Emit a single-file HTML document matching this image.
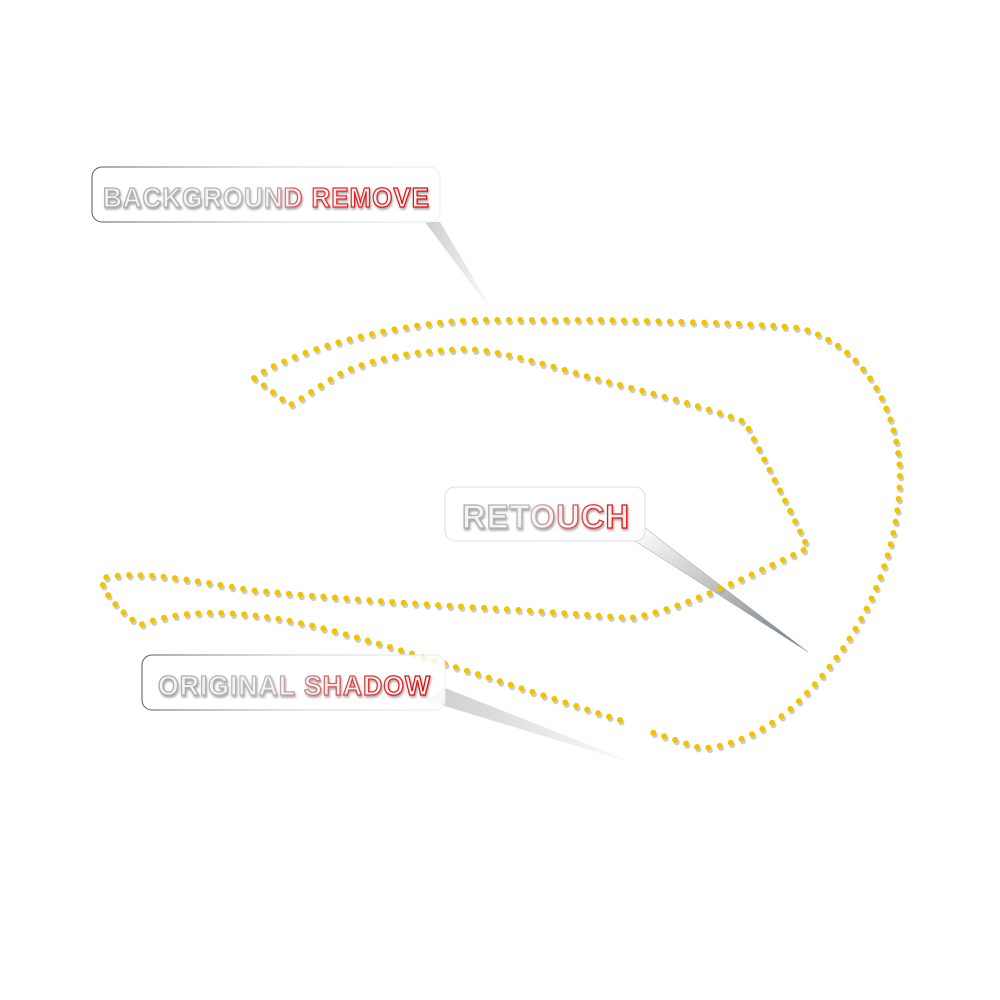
<!DOCTYPE html>
<html><head><meta charset="utf-8"><style>
html,body{margin:0;padding:0;background:#fff;}
svg{display:block}
.lbl{font-family:"Liberation Sans",sans-serif;font-weight:bold;font-size:28px;letter-spacing:1px;fill:#f4f4f4;stroke-width:1.3px}
</style></head><body>
<svg width="1000" height="1000" viewBox="0 0 1000 1000" xmlns="http://www.w3.org/2000/svg">
<defs>
<linearGradient id="tg" x1="0" x2="1" y1="0" y2="0">
<stop offset="0" stop-color="#aaa"/><stop offset="0.5" stop-color="#bbb"/><stop offset="0.62" stop-color="#e33"/><stop offset="1" stop-color="#e00"/></linearGradient>
<linearGradient id="tg2" x1="0" x2="1" y1="0" y2="0">
<stop offset="0" stop-color="#aaa"/><stop offset="0.4" stop-color="#bbb"/><stop offset="0.7" stop-color="#d44"/><stop offset="1" stop-color="#e00"/></linearGradient>
<linearGradient id="bx" x1="0" x2="1"><stop offset="0" stop-color="#555"/><stop offset="0.5" stop-color="#ccc"/><stop offset="1" stop-color="#eee"/></linearGradient>
<linearGradient id="pr" x1="0" x2="1" y1="0" y2="1"><stop offset="0" stop-color="#fff"/><stop offset="0.5" stop-color="#bbb"/><stop offset="1" stop-color="#6a7a88"/></linearGradient>
<linearGradient id="pg" x1="0" x2="1"><stop offset="0" stop-color="#ccc"/><stop offset="1" stop-color="#fff"/></linearGradient>
<path id="p" d="M254,378 C300,345 420,318 495,320 L600,320 C700,322 760,324 800,328 C860,345 895,400 900,470 C900,560 860,640 800,700 C770,730 730,748 700,748 L645,730 M620,720 C540,695 440,660 330,630 C260,612 190,605 140,625 C120,612 100,590 102,578 C140,570 190,580 250,590 C350,600 450,606 520,610 L630,618 C680,610 740,580 808,548 C790,510 775,480 745,422 C700,405 640,390 600,380 C530,360 480,345 450,350 C400,352 350,365 330,380 C310,392 300,400 290,405 L254,378" fill="none"/>
</defs>
<polygon points="425,222 440,222 497,318" fill="url(#pg)"/>
<polygon points="635,541 645,528 808,652" fill="url(#pr)" stroke="#999" stroke-width="0.5"/>
<polygon points="425,700 445,688 645,767" fill="url(#pg)"/>
<use href="#p" stroke="#999" stroke-opacity="0.5" stroke-width="6" stroke-linecap="round" stroke-dasharray="0 11.5" transform="translate(1.5,2.5)"/>
<use href="#p" stroke="#f0c400" stroke-width="6" stroke-linecap="round" stroke-dasharray="0 11.5"/>
<rect x="92" y="167" width="348" height="55" rx="10" fill="#fff" fill-opacity="0.85" stroke="url(#bx)" stroke-width="1"/>
<rect x="445" y="487" width="200" height="54" rx="10" fill="#fff" fill-opacity="0.85" stroke="#ddd" stroke-width="1"/>
<rect x="142" y="655" width="303" height="55" rx="10" fill="#fff" fill-opacity="0.85" stroke="url(#bx)" stroke-width="1"/>
<text class="lbl" x="103" y="207" stroke="url(#tg)" textLength="327" lengthAdjust="spacingAndGlyphs" style="filter:drop-shadow(1px 2px 1px #aaa)">BACKGROUND REMOVE</text>
<text class="lbl" x="462" y="528" stroke="url(#tg2)" style="font-size:33px;filter:drop-shadow(1px 2px 1px #aaa)" textLength="168" lengthAdjust="spacingAndGlyphs">RETOUCH</text>
<text class="lbl" x="158" y="695" stroke="url(#tg2)" textLength="273" lengthAdjust="spacingAndGlyphs" style="filter:drop-shadow(1px 2px 1px #aaa)">ORIGINAL SHADOW</text>
</svg>
</body></html>
